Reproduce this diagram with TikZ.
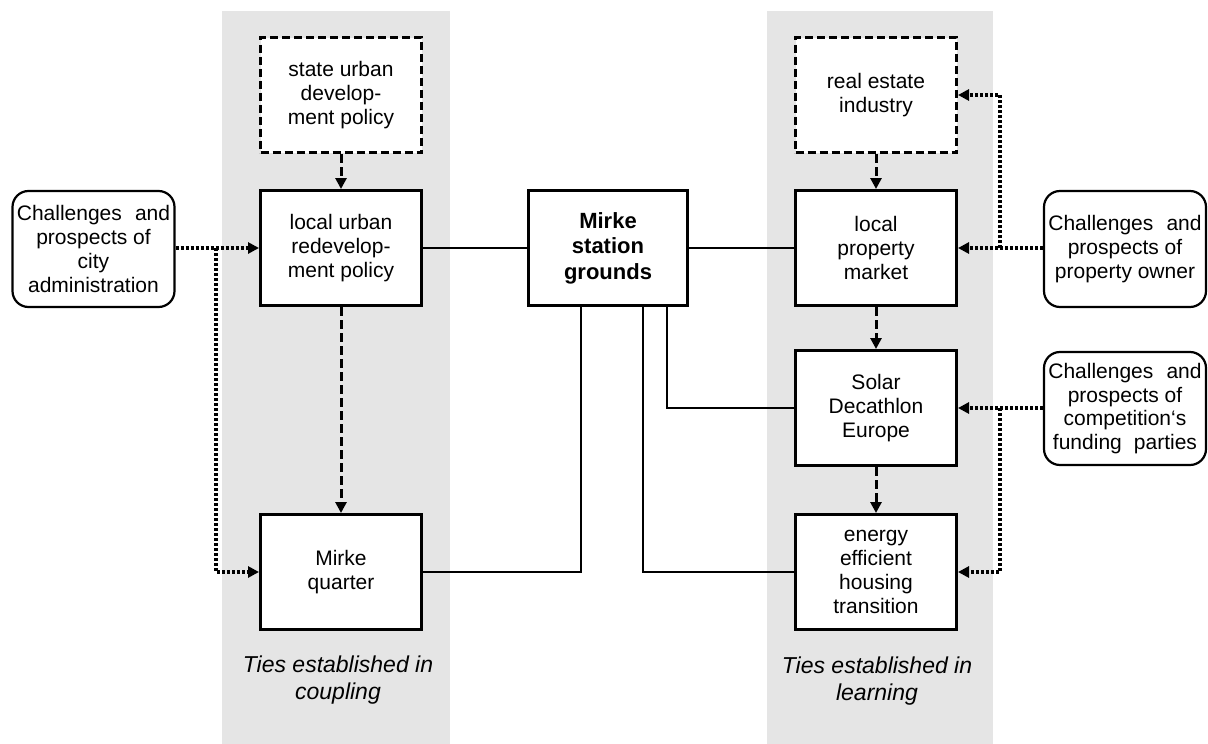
\documentclass[tikz,border=0pt]{standalone}
\usepackage{fontspec}
\setmainfont{Liberation Sans}
\usetikzlibrary{arrows.meta}
\begin{document}
\begin{tikzpicture}[x=1pt,y=-1pt,
  txt/.style={font=\fontsize{21}{23.8}\selectfont, align=center},
  box/.style={txt, draw, line width=3pt, fill=white, minimum width=161pt, minimum height=115pt, inner sep=0pt},
  dbox/.style={box, dash pattern=on 8pt off 4pt},
  cbox/.style={txt, draw, line width=2.2pt, fill=white, rounded corners=16pt, minimum width=162pt, minimum height=116pt, inner sep=0pt},
  solidline/.style={line width=2.8pt},
  dashedarrow/.style={line width=3pt, dash pattern=on 9pt off 4pt, -{Triangle[length=11pt,width=11pt]}},
  dottedarrow/.style={line width=3.2pt, dash pattern=on 3pt off 2pt, -{Triangle[length=11pt,width=11pt]}},
  panel/.style={fill=black!10, draw=none},
  tieslabel/.style={font=\fontsize{23}{26.5}\selectfont\itshape, align=center}
]
\useasboundingbox (0,0) rectangle (1208,744);
% panels
\fill[panel] (222,11) rectangle (450,744);
\fill[panel] (767,11) rectangle (993,744);

% nodes
\node[cbox] (chCity) at (93.5,249) {Challenges\hspace{0.35em} and\\prospects of\\city\\administration};
\node[dbox] (state) at (341,95) {state urban\\develop-\\ment policy};
\node[box] (local) at (341,248) {local urban\\redevelop-\\ment policy};
\node[box] (mirkeQ) at (341,572) {Mirke\\quarter};
\node[box, minimum width=159pt, font=\fontsize{22}{25.5}\selectfont\bfseries] (station) at (608,248) {Mirke\\station\\grounds};
\node[dbox] (realEstate) at (876,95) {real estate\\industry};
\node[box] (property) at (876,248) {local\\property\\market};
\node[box] (solar) at (876,408) {Solar\\Decathlon\\Europe};
\node[box] (energy) at (876,572) {energy\\efficient\\housing\\transition};
\node[cbox] (chOwner) at (1125,249) {Challenges\hspace{0.35em} and\\prospects of\\property owner};
\node[cbox, minimum height=113pt] (chComp) at (1125,408.5) {Challenges\hspace{0.35em} and\\prospects of\\competition‘s\\funding\hspace{0.3em} parties};

\node[tieslabel] (tiesC) at (338,680) {Ties established in\\coupling};
\node[tieslabel] (tiesL) at (877,681) {Ties established in\\learning};

% solid connectors
\draw[solidline] (local.east) -- (station.west);
\draw[solidline] (station.east) -- (property.west);
\draw[solidline] ([xshift=-27pt]station.south) |- (mirkeQ.east);
\draw[solidline] ([xshift=35pt]station.south) |- (energy.west);
\draw[solidline] ([xshift=59pt]station.south) |- (solar.west);

% dashed arrows
\draw[dashedarrow] (state.south) -- (local.north);
\draw[dashedarrow] (local.south) -- (mirkeQ.north);
\draw[dashedarrow] (realEstate.south) -- (property.north);
\draw[dashedarrow] (property.south) -- (solar.north);
\draw[dashedarrow] (solar.south) -- (energy.north);

% dotted arrows
\coordinate (cityJ) at (216,248);
\coordinate (ownerJ) at (1000,248);
\coordinate (compJ) at (1000,408);
\draw[dottedarrow] (chCity.east |- local.west) -- (local.west);
\draw[dottedarrow] (cityJ) |- (mirkeQ.west);
\draw[dottedarrow] (chOwner.west |- property.east) -- (property.east);
\draw[dottedarrow] (ownerJ) |- (realEstate.east);
\draw[dottedarrow] (chComp.west |- solar.east) -- (solar.east);
\draw[dottedarrow] (compJ) |- (energy.east);
\end{tikzpicture}
\end{document}
